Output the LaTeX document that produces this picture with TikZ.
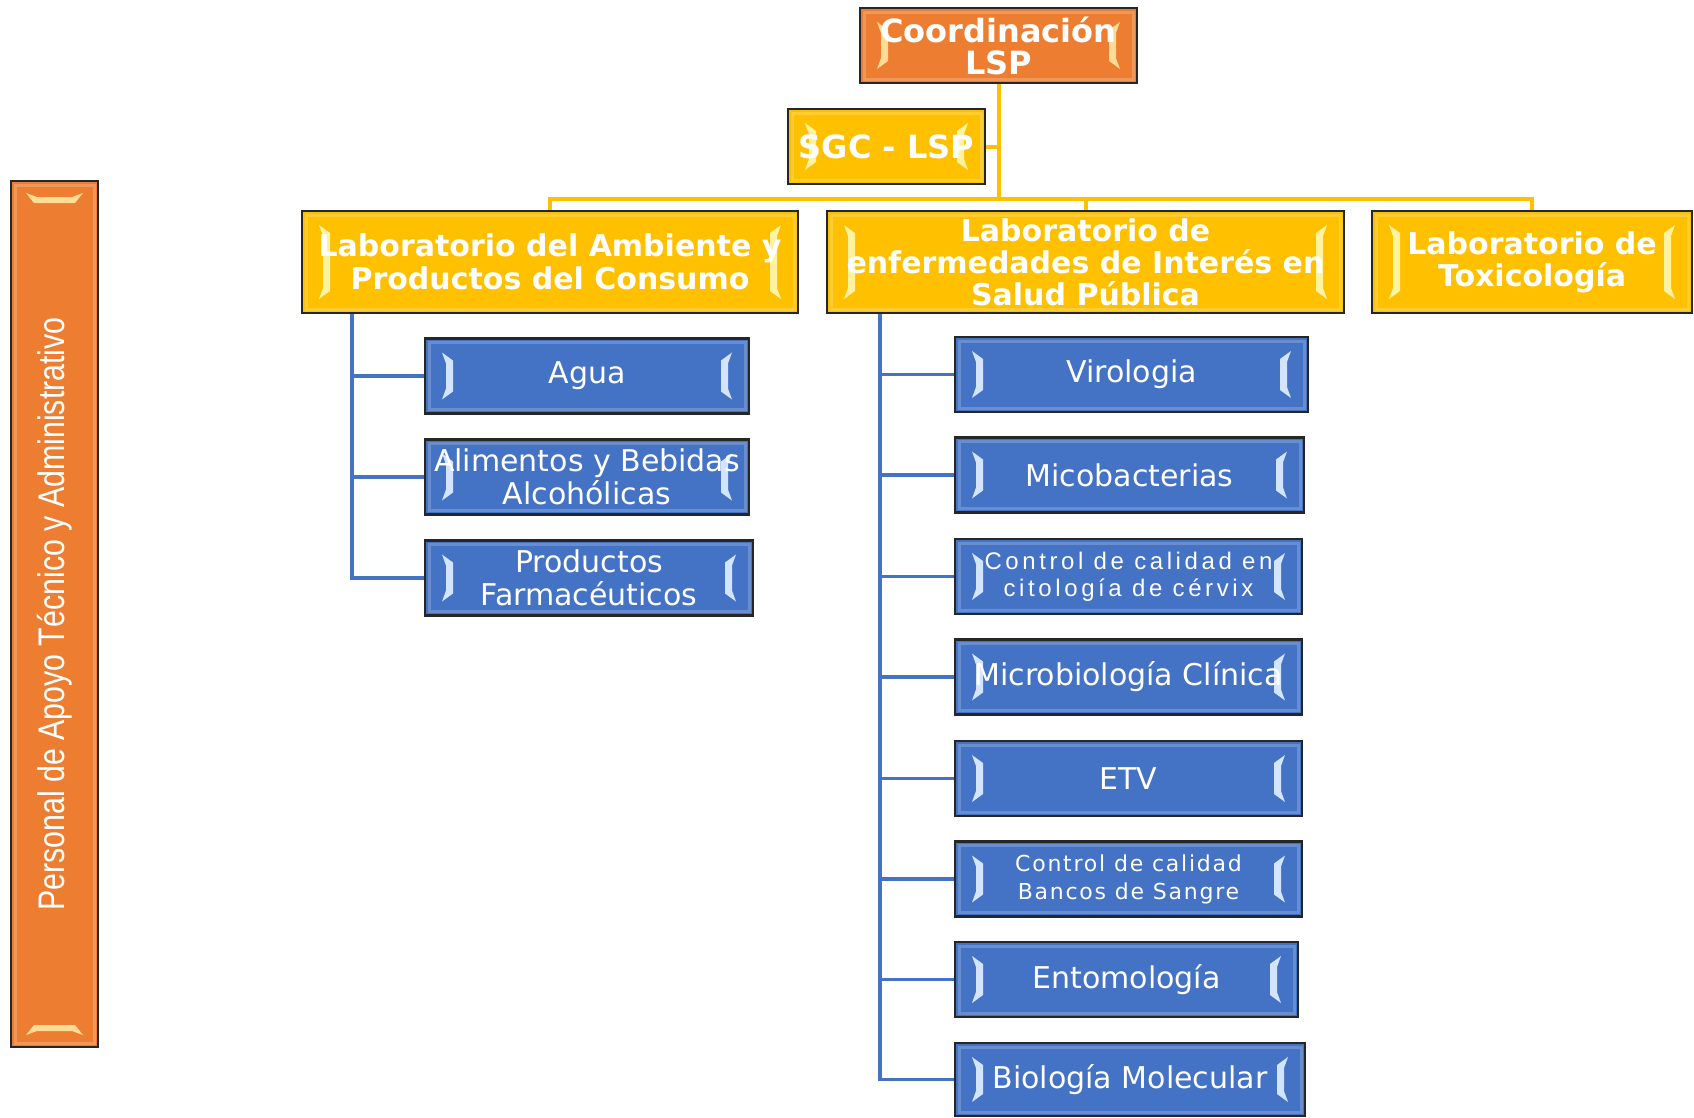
\documentclass[tikz,border=0pt]{standalone}
\usepackage{fontspec}
\setmainfont{DejaVu Sans}
\newfontfamily\arialfont{Liberation Sans}
\newfontfamily\narrowfont[FakeStretch=0.82]{Liberation Sans}
\usepackage{tikz}
\pgfdeclarelayer{bg}
\pgfsetlayers{bg,main}
\definecolor{orangefill}{HTML}{ED7D31}
\definecolor{yellowfill}{HTML}{FFC000}
\definecolor{bluefill}{HTML}{4472C4}
\definecolor{boxline}{HTML}{262626}
\definecolor{orangeshine}{HTML}{FFDC96}
\definecolor{yellowshine}{HTML}{FFF3A0}
\definecolor{blueshine}{HTML}{D2E4FF}
\tikzset{chartbox/.style={draw=boxline, line width=2.5pt, text=white, inner sep=0pt, align=center}}
\tikzset{bevel/.style={path picture={
    \draw[white, opacity=.2, line width=3pt]
        ([shift={(4pt,-4pt)}]path picture bounding box.north west) rectangle
        ([shift={(-4pt,4pt)}]path picture bounding box.south east);
    \fill[#1] ([shift={(17pt,-14pt)}]path picture bounding box.north west)
        -- ([shift={(28pt,-22pt)}]path picture bounding box.north west)
        -- ([shift={(28pt,22pt)}]path picture bounding box.south west)
        -- ([shift={(17pt,14pt)}]path picture bounding box.south west)
        -- ([shift={(21pt,25pt)}]path picture bounding box.south west)
        -- ([shift={(21pt,-25pt)}]path picture bounding box.north west) -- cycle;
    \fill[#1] ([shift={(-17pt,-14pt)}]path picture bounding box.north east)
        -- ([shift={(-28pt,-22pt)}]path picture bounding box.north east)
        -- ([shift={(-28pt,22pt)}]path picture bounding box.south east)
        -- ([shift={(-17pt,14pt)}]path picture bounding box.south east)
        -- ([shift={(-21pt,25pt)}]path picture bounding box.south east)
        -- ([shift={(-21pt,-25pt)}]path picture bounding box.north east) -- cycle;
}}}
\tikzset{barbevel/.style={path picture={
    \draw[white, opacity=.2, line width=3pt]
        ([shift={(4pt,-4pt)}]path picture bounding box.north west) rectangle
        ([shift={(-4pt,4pt)}]path picture bounding box.south east);
    \fill[orangeshine] ([shift={(15pt,-12pt)}]path picture bounding box.north west)
        -- ([shift={(23pt,-22pt)}]path picture bounding box.north west)
        -- ([shift={(-23pt,-22pt)}]path picture bounding box.north east)
        -- ([shift={(-15pt,-12pt)}]path picture bounding box.north east)
        -- ([shift={(-26pt,-16pt)}]path picture bounding box.north east)
        -- ([shift={(26pt,-16pt)}]path picture bounding box.north west) -- cycle;
    \fill[orangeshine] ([shift={(15pt,12pt)}]path picture bounding box.south west)
        -- ([shift={(23pt,22pt)}]path picture bounding box.south west)
        -- ([shift={(-23pt,22pt)}]path picture bounding box.south east)
        -- ([shift={(-15pt,12pt)}]path picture bounding box.south east)
        -- ([shift={(-26pt,16pt)}]path picture bounding box.south east)
        -- ([shift={(26pt,16pt)}]path picture bounding box.south west) -- cycle;
}}}
\tikzset{orangebox/.style={chartbox, bevel=orangeshine, fill=orangefill, font=\fontsize{32}{32}\selectfont\bfseries}}
\tikzset{yellowbox/.style={chartbox, bevel=yellowshine, fill=yellowfill, minimum height=102pt, font=\fontsize{30}{32}\selectfont\bfseries}}
\tikzset{bluebox/.style={chartbox, bevel=blueshine, fill=bluefill, minimum height=75pt, font=\fontsize{30}{33}\selectfont}}
\tikzset{yline/.style={draw=yellowfill, line width=4pt}}
\tikzset{bline/.style={draw=bluefill, line width=3.5pt}}

\begin{document}
\begin{tikzpicture}[x=1pt, y=1pt]
    \useasboundingbox (0,0) rectangle (1694,-1117);

    % top of the chart
    \node (coord) at (998.5,-45.5) [orangebox, minimum width=277pt, minimum height=75pt] {Coordinación\\LSP};
    \node (sgc) at (886.5,-146.5) [yellowbox, minimum width=197pt, minimum height=75pt, font=\fontsize{32}{32}\selectfont\bfseries] {SGC - LSP};
    \node (amb) at (550,-262) [yellowbox, minimum width=496pt, font=\fontsize{30}{33}\selectfont\bfseries] {Laboratorio del Ambiente y\\Productos del Consumo};
    \node (enf) at (1085.5,-262) [yellowbox, minimum width=517pt] {Laboratorio de\\enfermedades de Interés en\\Salud Pública};
    \node (tox) at (1532,-262) [yellowbox, minimum width=320pt] {Laboratorio de\\Toxicología};
    \coordinate (hub) at (998.5,-199);

    % side bar
    \node (staff) at (54.5,-614) [chartbox, barbevel, fill=orangefill, minimum width=87pt, minimum height=866pt]
        {\rotatebox{90}{\narrowfont\fontsize{37}{40}\selectfont Personal de Apoyo Técnico y Administrativo}};

    % ambiente
    \node (agua) at (587,-376) [bluebox, minimum width=324pt] {Agua};
    \node (alim) at (587,-477) [bluebox, minimum width=324pt] {Alimentos y Bebidas\\Alcohólicas};
    \node (farm) at (589,-578) [bluebox, minimum width=328pt] {Productos\\Farmacéuticos};
    \coordinate (ltop) at (352,-313);

    % enfermedades
    \node (viro) at (1131.5,-374.5) [bluebox, minimum width=353pt] {Virologia};
    \node (mico) at (1129.5,-475) [bluebox, minimum width=349pt] {Micobacterias};
    \node (cito) at (1128.5,-576.5) [bluebox, minimum width=347pt, font=\arialfont\fontsize{24}{27}\selectfont\addfontfeature{LetterSpace=15}] {Control de calidad en\\citología de cérvix};
    \node (micro) at (1128.5,-677) [bluebox, minimum width=347pt] {Microbiología Clínica};
    \node (etv) at (1128.5,-778.5) [bluebox, minimum width=347pt] {ETV};
    \node (sang) at (1128.5,-879) [bluebox, minimum width=347pt, font=\fontsize{22}{28}\selectfont\addfontfeature{LetterSpace=8}] {Control de calidad\\Bancos de Sangre};
    \node (ento) at (1126.5,-979.5) [bluebox, minimum width=343pt] {Entomología};
    \node (biol) at (1130,-1079.5) [bluebox, minimum width=350pt, minimum height=73pt] {Biología Molecular};
    \coordinate (rtop) at (880,-313);

    \begin{pgfonlayer}{bg}
        \draw[yline] (coord.south) -- (hub);
        \draw[yline] (sgc.east) -- (sgc.east -| hub);
        \draw[yline] (amb.north) |- (hub) -| (tox.north);
        \draw[yline] (hub) -| (enf.north);
        \draw[bline] (ltop) |- (agua.west);
        \draw[bline] (ltop) |- (alim.west);
        \draw[bline] (ltop) |- (farm.west);
        \draw[bline] (rtop) |- (viro.west);
        \draw[bline] (rtop) |- (mico.west);
        \draw[bline] (rtop) |- (cito.west);
        \draw[bline] (rtop) |- (micro.west);
        \draw[bline] (rtop) |- (etv.west);
        \draw[bline] (rtop) |- (sang.west);
        \draw[bline] (rtop) |- (ento.west);
        \draw[bline] (rtop) |- (biol.west);
    \end{pgfonlayer}
\end{tikzpicture}
\end{document}
